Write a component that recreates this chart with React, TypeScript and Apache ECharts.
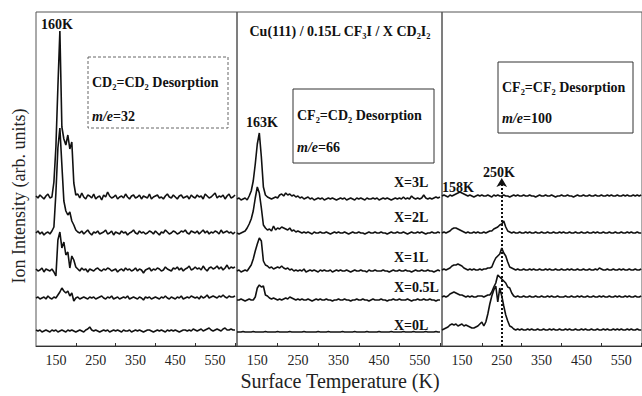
import React, { useEffect, useRef } from "react";
import * as echarts from "echarts";

// Temperature sampling (K): 100 .. 600 every 5 K
const T_START = 100;
const T_STEP = 5;
const coverages = ["X=0L", "X=0.5L", "X=1L", "X=2L", "X=3L"];
const xLabelTicks = [150, 250, 350, 450, 550];
const xMinorTicks = [200, 300, 400, 500, 600];

// vertical offsets of each trace (arb. units), order 0L,0.5L,1L,2L,3L
const offsetsP1 = [15, 48, 76, 113, 149];
const offsetsP2 = [14, 46, 75, 113, 147];
const offsetsP3 = [16, 49, 76, 113, 150];

// ---------- Panel 1: CD2=CD2, m/e=32 ----------
const p1_0L = [
  1, 0, 1, -1, 0, 1, 0, -1, 1, 0,
  1, -1, 0, 1, 0, -1, 1, 0, 1, 0,
  -1, 0, 1, 0, -1, 1, 2, 4, 1, 0,
  1, 0, -1, 0, 1, 0, 1, -1, 0, 1,
  0, 1, 0, -1, 1, 0, 0, 1, -1, 0,
  1, 0, 1, 0, -1, 0, 1, 1, 0, -1,
  0, 1, 0, 1, 0, -1, 1, 0, 1, 0,
  1, 0, -1, 0, 1, 1, 0, 1, 0, 2,
  1, 0, 1, 2, 0, 1, 2, 3, 1, 0,
  1, 2, 1, 0, 2, 3, 1, 1, 2, 1,
  1,
];
const p1_05L = [
  0, 1, -1, 0, 1, -1, 2, 0, -1, 1,
  0, 3, 6, 10, 7, 5, 7, 2, 5, -3,
  0, 1, -1, 0, 1, 0, -1, 1, 0, 1,
  -1, 0, 1, 2, 0, -1, 1, 0, 2, -1,
  0, 1, -1, 0, 1, 0, 2, -1, 0, 1,
  0, -1, 1, 0, -2, 1, 0, 1, -1, 0,
  1, 0, -1, 1, 0, 2, 0, -1, 1, 0,
  -1, 1, 0, 2, -1, 0, 1, 0, 2, 1,
  0, 1, -1, 2, 0, 1, 3, 0, 1, 2,
  1, 0, 2, 1, 3, 1, 0, 2, 1, 1,
  2,
];
const p1_1L = [
  1, -1, 0, 2, -2, 1, 0, -1, 1, -2,
  -6, 30, 38, 22, 28, 15, 18, 2, 14, 10,
  3, 1, -1, 2, 0, 1, -2, 1, 0, -1,
  1, 2, 0, -1, 1, 0, 2, 1, -1, 0,
  1, -2, 0, 1, -1, 2, 0, 1, -1, 0,
  2, -1, 1, 0, -3, 0, 1, 2, -1, 1,
  0, 2, 1, -1, 0, 3, 1, 0, -1, 2,
  1, 3, 0, 2, -1, 1, 2, 4, 0, 1,
  3, 1, 2, 0, 4, 1, -1, 2, 3, 1,
  2, 4, 1, 3, 0, 2, 5, 1, 3, 2,
  3,
];
const p1_2L = [
  0, 2, -1, 1, -2, 0, 1, -1, 2, 6,
  40, 85, 105, 68, 32, 22, 18, 21, 12, 8,
  3, 1, 0, 2, -1, 1, 3, 0, -2, 1,
  0, 2, -1, 0, 1, 3, -1, 0, 2, -2,
  1, 0, -1, 2, 0, 1, -2, 0, 1, 3,
  0, -1, 2, 0, 1, -1, 0, 2, 1, -1,
  2, 0, -2, 1, 0, 3, 1, -1, 0, 2,
  1, -1, 0, 2, 1, 3, 0, -1, 2, 1,
  0, 2, -1, 1, 3, 0, 2, -1, 1, 0,
  2, 1, -1, 3, 0, 1, 2, 0, 1, -1,
  1,
];
const p1_3L = [
  1, -1, 2, 0, -2, 1, 3, -1, 0, 15,
  50, 110, 166, 70, 58, 52, 62, 48, 55, 14,
  2, 3, -1, 4, 0, -2, 2, 1, -1, 3,
  -2, 0, 1, -3, 2, 0, 5, 1, -1, 0,
  2, -2, 0, 1, -1, 3, 0, -2, 1, 2,
  -1, 0, 2, -2, 1, 0, -1, 3, -2, 0,
  1, 2, -1, 0, -2, 1, 3, 0, -1, 2,
  0, -2, 1, 2, -1, 0, 1, -2, 2, 0,
  -1, 2, 0, 1, -2, 3, 1, -1, 0, 2,
  4, -1, 1, 0, 2, -2, 1, 3, -1, 0,
  2,
];

// ---------- Panel 2: CF2=CD2, m/e=66 ----------
const p2_0L = [
  0, 0, 0, 0.5, 0, 0, 0, 0, 0.5, 0,
  0, 0, 0, 0, 0.5, 0, 0, 0, 0, 0,
  0.5, 0, 0, 0, 0, 0, 0.5, 0, 0, 0,
  0, 0, 0, 0.5, 0, 0, 0, 0, 0, 0,
  0.5, 0, 0, 0, 0, 0.5, 0, 0, 0, 0,
  0, 0, 0.5, 0, 0, 0, 0, 0, 0.5, 0,
  0, 0, 0, 0, 0.5, 0, 0, 0, 0, 0,
  0.5, 0, 0, 0, 0, 0, 0.5, 0, 0, 0,
  0, 0, 0.5, 0, 0, 0, 0, 0.5, 0, 0,
  0, 0, 0, 0.5, 0, 0, 0, 0, 0.5, 0,
  0,
];
const p2_05L = [
  0, 0, 1, 0, -1, 0, 1, 0, 0, 3,
  12, 15, 13, 14, 5, 4, 2, 1, 2, 1,
  0, 1, 0, 1, 2, 1, 3, 2, 1, 0,
  1, 0, 1, 0, 0, 1, 0, -1, 0, 1,
  0, 1, 0, 0, 1, 0, 0, -1, 0, 0,
  1, 0, 0, 1, 0, 0, -1, 0, 0, 1,
  0, 0, 1, 0, 0, -1, 0, 1, 0, 0,
  0, 1, 0, 0, -1, 0, 0, 1, 0, 0,
  1, 0, 0, 0, 1, 0, -1, 0, 0, 1,
  0, 0, 1, 0, 0, 1, 0, 0, -1, 0,
  0,
];
const p2_1L = [
  0, 1, -1, 0, 1, 0, 3, 6, 12, 20,
  27, 33, 30, 10, 6, 5, 3, 4, 2, 3,
  4, 3, 5, 3, 2, 3, 1, 2, 0, 1,
  0, 1, 0, 2, -1, 0, 1, 0, 1, 0,
  -1, 1, 0, 1, 0, 0, 1, -1, 0, 1,
  0, 1, 0, 0, 1, 0, -1, 0, 1, 0,
  0, 1, 0, 0, -1, 1, 0, 0, 1, 0,
  0, 0, 1, 0, 0, -1, 0, 1, 0, 0,
  1, 0, 0, 1, 0, 0, -1, 0, 1, 0,
  0, 1, 0, 0, 1, 0, 0, -1, 0, 1,
  0,
];
const p2_2L = [
  0, -1, 0, 1, 2, 5, 9, 14, 22, 35,
  46, 40, 25, 8, 5, 3, 4, 2, 7, 3,
  5, 4, 6, 5, 4, 3, 5, 2, 3, 1,
  2, 1, 0, 1, 0, 1, 0, -1, 1, 0,
  0, 1, 0, 0, 1, 0, -1, 0, 1, 0,
  1, 0, 0, 1, 0, -1, 0, 1, 0, 0,
  1, 0, 0, -1, 0, 1, 0, 0, 1, 0,
  0, 1, 0, 0, -1, 0, 1, 0, 0, 1,
  0, 0, 1, 0, -1, 0, 1, 0, 0, 1,
  0, 1, 0, -1, 0, 0, 1, 0, 0, 1,
  0,
];
const p2_3L = [
  0, 1, -1, 0, 1, -1, 3, 8, 18, 35,
  55, 66, 42, 12, 4, 2, 1, 0, 1, 2,
  1, 4, 5, 3, 6, 4, 5, 3, 4, 2,
  3, 1, 2, 0, 1, 2, 0, 1, -1, 0,
  1, 0, 1, -1, 0, 1, 0, 1, 0, -1,
  0, 1, 0, 1, -1, 0, 1, 0, -1, 1,
  0, 1, 0, -1, 1, 0, 0, 1, 0, 1,
  -1, 0, 1, 0, 1, 0, -1, 0, 1, 0,
  1, 0, 2, 0, 1, 0, 3, 1, 0, 1,
  0, 1, 4, 1, 0, 1, 0, 1, 2, 1,
  2,
];

// ---------- Panel 3: CF2=CF2, m/e=100 ----------
const p3_0L = [
  0, 1, 2, 3, 5, 6, 5, 6, 4, 5,
  6, 4, 5, 4, 3, 2, 2, 3, 4, 6,
  8, 4, 8, 16, 26, 34, 40, 44, 28, 42,
  34, 24, 15, 9, 4, 3, 1, 0, 1, 0,
  1, 0, 0, 1, 0, 1, 0, 0, 1, 0,
  0, 1, 0, 0, 1, 0, 1, 0, 0, 1,
  0, 0, 1, 0, 1, 0, 0, 1, 0, 0,
  1, 0, 1, 0, 0, 1, 0, 0, 1, 0,
  0, 1, 0, 1, 0, 0, 1, 0, 1, 0,
  1, 0, 0, 1, 0, 1, 0, 0, 1, 0,
  0,
];
const p3_05L = [
  0, 1, 0, 1, 3, 4, 5, 4, 3, 2,
  2, 1, 0, 1, 0, 1, 0, 0, 1, 1,
  1, 0, 1, 2, 2, 5, 10, 14, 22, 20,
  18, 16, 14, 10, 9, 4, 1, 0, 1, 0,
  0, 1, 0, 0, 1, 0, 0, 1, 0, 0,
  1, 0, 0, 1, 0, 1, 0, 0, 1, 0,
  0, 0, 1, 0, 0, 1, 0, 0, 1, 0,
  1, 0, 0, 1, 0, 0, 1, 0, 0, 1,
  0, 1, 0, 0, 1, 0, 0, 1, 0, 1,
  0, 0, 1, 0, 1, 0, 0, 1, 0, 0,
  1,
];
const p3_1L = [
  0, 1, 0, 1, 2, 4, 5, 5, 6, 5,
  4, 2, 1, 0, 1, 0, 1, 0, 0, 1,
  0, 1, 1, 2, 2, 3, 8, 12, 14, 16,
  22, 17, 14, 8, 3, 2, 1, 0, 1, 0,
  0, 1, 0, 0, 1, 0, 1, 0, 0, 1,
  0, 0, 1, 0, 1, 0, 0, 1, 0, 0,
  1, 0, 0, 1, 0, 1, 0, 0, 1, 0,
  0, 1, 0, 0, 1, 0, 0, 1, 0, 2,
  1, 0, 0, 1, 0, 0, 1, 0, 0, 1,
  0, 1, 0, 0, 1, 0, 0, 1, 0, 0,
  1,
];
const p3_2L = [
  0, 1, 0, 1, 2, 4, 5, 5, 4, 3,
  2, 1, 0, 1, 0, 0, 1, 0, 1, 0,
  0, 1, 0, 1, 2, 2, 4, 5, 6, 8,
  9, 12, 6, 2, 1, 0, 1, 0, 0, 1,
  0, 0, 1, 0, 1, 0, 0, 1, 0, 0,
  1, 0, 0, 1, 0, 0, 1, 0, 0, 1,
  0, 1, 0, 0, 1, 0, 0, 1, 0, 0,
  1, 0, 0, 1, 0, 0, 1, 0, 1, 0,
  0, 1, 0, 0, 1, 0, 0, 1, 0, 0,
  1, 0, 0, 1, 0, 1, 0, 0, 1, 0,
  0,
];
const p3_3L = [
  0, 1, 0, -1, 1, 0, 1, 2, 3, 4,
  3, 2, 1, 0, 1, 0, -1, 0, 1, 0,
  1, 0, 0, 1, 0, -1, 1, 0, 1, 0,
  0, 1, 0, 0, -1, 0, 1, 0, 1, 0,
  0, 1, 0, 0, 1, 0, 0, -1, 0, 1,
  0, 0, 1, 0, 0, 1, 0, -1, 0, 0,
  1, 0, 0, 1, 0, 0, -1, 0, 1, 0,
  0, 1, 0, 0, 1, 0, 0, 1, 0, 0,
  1, 0, 0, 1, 0, 1, 0, 0, 1, 0,
  0, 1, 0, 1, 0, 0, 1, 0, 1, 0,
  1,
];

const panel1 = [p1_0L, p1_05L, p1_1L, p1_2L, p1_3L];
const panel2 = [p2_0L, p2_05L, p2_1L, p2_2L, p2_3L];
const panel3 = [p3_0L, p3_05L, p3_1L, p3_2L, p3_3L];

const arrowTemp = 250;
const arrowTop = 168;

const FONT = '"Liberation Serif", "Times New Roman", serif';

export default function App() {
  const ref = useRef<HTMLDivElement>(null);
  useEffect(() => {
    document.body.style.margin = "0";
    if (!ref.current) return;
    const chart = echarts.init(ref.current, undefined, { renderer: "svg" });

    const grids = [
      { left: 36, top: 12, width: 201, height: 334 },
      { left: 237, top: 12, width: 205, height: 334 },
      { left: 442, top: 12, width: 201, height: 334 },
    ].map((g) => ({ ...g, show: true, borderColor: "#555", borderWidth: 1, backgroundColor: "transparent" }));

    const xMax = [605, 605, 602];
    const xAxes = [0, 1, 2].map((k) => ({
      type: "value",
      gridIndex: k,
      min: 100,
      max: xMax[k],
      splitLine: { show: false },
      axisLine: { show: true, lineStyle: { color: "#333", width: 1 } },
      axisTick: { show: true, inside: true, length: 3, customValues: xMinorTicks, lineStyle: { color: "#333" } },
      axisLabel: {
        customValues: xLabelTicks,
        fontSize: 14,
        fontFamily: FONT,
        color: "#222",
        margin: 7,
      },
    }));
    const yAxes = [0, 1, 2].map((k) => ({
      type: "value",
      gridIndex: k,
      min: 0,
      max: 334,
      show: false,
    }));

    const panels = [
      { data: panel1, offsets: offsetsP1 },
      { data: panel2, offsets: offsetsP2 },
      { data: panel3, offsets: offsetsP3 },
    ];
    const series: any[] = [];
    panels.forEach((p, k) => {
      p.data.forEach((vals, j) => {
        const s: any = {
          type: "line",
          name: `${coverages[j]}-${k}`,
          xAxisIndex: k,
          yAxisIndex: k,
          showSymbol: false,
          silent: true,
          lineStyle: { color: "#111", width: 1.6 },
          data: vals.map((v, i) => [T_START + T_STEP * i, p.offsets[j] + v]),
        };
        if (k === 2 && j === 0) {
          s.markLine = {
            silent: true,
            symbol: ["none", "arrow"],
            symbolSize: [8, 9],
            label: { show: false },
            lineStyle: { type: "dotted", width: 2, color: "#111" },
            data: [[{ coord: [arrowTemp, 0] }, { coord: [arrowTemp, arrowTop] }]],
          };
        }
        series.push(s);
      });
    });

    const bold = (text: string, x: number, y: number, size = 14, align = "center") => ({
      type: "text",
      x,
      y,
      z: 10,
      style: {
        text,
        fontSize: size,
        fontWeight: "bold",
        fontFamily: FONT,
        fill: "#111",
        align,
        verticalAlign: "middle",
      },
    });
    const mE = (val: string, x: number, y: number) => ({
      type: "text",
      x,
      y,
      z: 10,
      style: {
        text: `{i|m/e}=${val}`,
        fontSize: 14,
        fontWeight: "bold",
        fontFamily: FONT,
        fill: "#111",
        align: "left",
        verticalAlign: "middle",
        rich: { i: { fontStyle: "italic", fontWeight: "bold", fontSize: 14, fontFamily: FONT, fill: "#111" } },
      },
    });
    const box = (x: number, y: number, w: number, h: number, dashed: boolean) => ({
      type: "rect",
      z: 5,
      shape: { x, y, width: w, height: h },
      style: {
        fill: "#fff",
        stroke: dashed ? "#666" : "#333",
        lineWidth: 1,
        lineDash: dashed ? [3, 2] : null,
      },
    });

    const graphic: any[] = [
      {
        type: "text",
        x: 19,
        y: 196,
        rotation: Math.PI / 2,
        style: {
          text: "Ion Intensity (arb. units)",
          fontSize: 18,
          fontFamily: FONT,
          fill: "#222",
          align: "center",
          verticalAlign: "middle",
        },
      },
      {
        type: "text",
        x: 340,
        y: 381,
        style: {
          text: "Surface Temperature (K)",
          fontSize: 20,
          fontFamily: FONT,
          fill: "#222",
          align: "center",
          verticalAlign: "middle",
        },
      },
      bold("Cu(111) / 0.15L CF₃I / X CD₂I₂", 340, 31, 14),
      bold("160K", 57, 24),
      bold("163K", 262, 122),
      bold("158K", 458, 187),
      bold("250K", 499, 172),
      box(88, 57, 140, 71, true),
      bold("CD₂=CD₂ Desorption", 92, 82, 14, "left"),
      mE("32", 92, 116),
      box(293, 89, 141, 74, false),
      bold("CF₂=CD₂ Desorption", 297, 115, 14, "left"),
      mE("66", 297, 147),
      box(498, 62, 135, 71, false),
      bold("CF₂=CF₂ Desorption", 502, 87, 14, "left"),
      mE("100", 502, 118),
      bold("X=3L", 394, 182, 14, "left"),
      bold("X=2L", 394, 217, 14, "left"),
      bold("X=1L", 394, 257, 14, "left"),
      bold("X=0.5L", 394, 287, 14, "left"),
      bold("X=0L", 394, 325, 14, "left"),
    ];

    chart.setOption({
      animation: false,
      backgroundColor: "#fff",
      textStyle: { fontFamily: FONT },
      grid: grids,
      xAxis: xAxes,
      yAxis: yAxes,
      series,
      graphic,
    });
    return () => chart.dispose();
  }, []);
  return <div ref={ref} style={{ width: 642, height: 396 }} />;
}
